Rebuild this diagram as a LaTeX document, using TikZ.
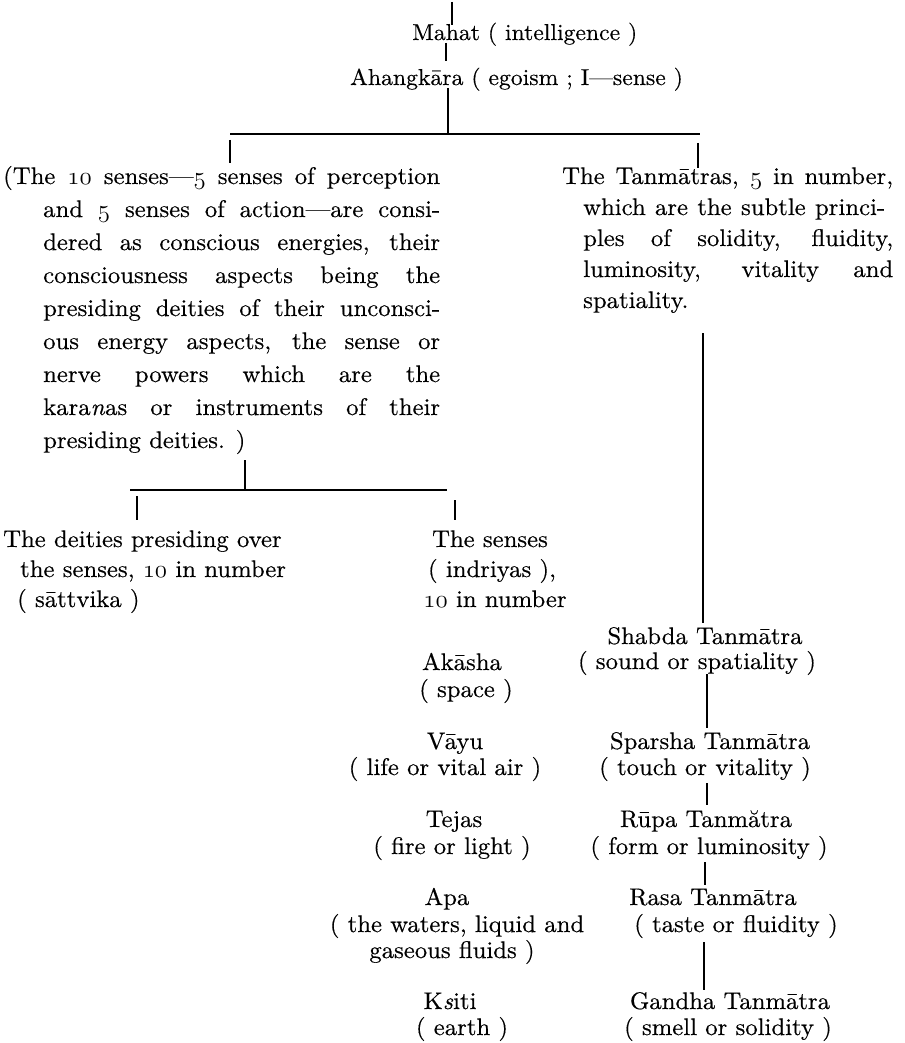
\documentclass[tikz,border=0pt]{standalone}
\usepackage{fontspec}
\setmainfont{lmroman10}[Extension=.otf, UprightFont=*-regular, ItalicFont=*-italic, FakeStretch=1.03, FakeBold=0.4]
\newcommand\osnum[1]{{\usefont{OML}{cmm}{m}{it}#1}}
\tikzset{
  lbl/.style={inner sep=0pt, font=\fontsize{24pt}{28pt}\selectfont},
  lft/.style={lbl, anchor=base west},
  ctr/.style={lbl, anchor=base},
  head/.style={inner sep=0pt, anchor=base west, font=\fontsize{23pt}{28pt}\selectfont},
  drop/.style={line width=2.4pt},
  bar/.style={line width=1.5pt},
  thin/.style={line width=1.3pt}
}
\newcommand\js[2]{\makebox[#1][s]{#2}}
\begin{document}
\begin{tikzpicture}[x=1pt,y=-1pt]
\useasboundingbox (0,0) rectangle (904,1043);
% top chain
\node[head] (mahat) at (412,40) {Mahat ( intelligence )};
\node[head] (ahang) at (350,85) {Ahangkāra ( egoism ; I—sense )};
\coordinate (top0) at (452,2);
\coordinate (top1) at (452,25);
\coordinate (m0) at (446,43);
\coordinate (m1) at (446,61);
\coordinate (a0) at (448,88);
\coordinate (a1) at (448,134);
\coordinate (hL) at (230,134);
\coordinate (hR) at (700,134);
\draw[drop] (top0) -- (top1);
\draw[drop] (m0) -- (m1);
\draw[drop] (a0) -- (a1);
\draw[bar] (hL) -- (hR);
\coordinate (dl0) at (230,140);
\coordinate (dl1) at (230,163);
\coordinate (dr0) at (698,143);
\coordinate (dr1) at (698,168);
\draw[drop] (dl0) -- (dl1);
\draw[drop] (dr0) -- (dr1);
% left paragraph
\node[lft] (l1) at (3,184) {\js{437pt}{(The \osnum{10} senses—\osnum{5} senses of perception}};
\node[lft] (l2) at (43,217) {\js{397pt}{and \osnum{5} senses of action—are consi-}};
\node[lft] (l3) at (43,250) {\js{397pt}{dered as conscious energies, their}};
\node[lft] (l4) at (43,283) {\js{397pt}{consciousness aspects being the}};
\node[lft] (l5) at (43,316) {\js{397pt}{presiding deities of their unconsci-}};
\node[lft] (l6) at (43,349) {\js{397pt}{ous energy aspects, the sense or}};
\node[lft] (l7) at (43,382) {\js{397pt}{nerve powers which are the}};
\node[lft] (l8) at (43,415) {\js{397pt}{kara\textit{n}as or instruments of their}};
\node[lft] (l9) at (43,448) {presiding deities. )};
% right paragraph
\node[lft] (r1) at (562,184) {\js{331pt}{The Tanmātras, \osnum{5} in number,}};
\node[lft] (r2) at (583,215) {\js{302pt}{which are the subtle princi-}};
\node[lft] (r3) at (583,246) {\js{310pt}{ples of solidity, fluidity,}};
\node[lft] (r4) at (583,277) {\js{310pt}{luminosity, vitality and}};
\node[lft] (r5) at (583,308) {spatiality.};
% second split
\coordinate (p0) at (245,460);
\coordinate (p1) at (245,490);
\coordinate (gL) at (130,490);
\coordinate (gR) at (447,490);
\draw[drop] (p0) -- (p1);
\draw[bar] (gL) -- (gR);
\coordinate (g10) at (137,496);
\coordinate (g11) at (137,520);
\coordinate (g20) at (455,500);
\coordinate (g21) at (455,520);
\draw[drop] (g10) -- (g11);
\draw[drop] (g20) -- (g21);
\node[lft] (d1) at (3,547) {The deities presiding over};
\node[lft] (d2) at (20,577) {the senses, \osnum{10} in number};
\node[lft] (d3) at (17,607) {( sāttvika )};
\node[ctr] (s1) at (490,547) {The senses};
\node[ctr] (s2) at (492,577) {( indriyas ),};
\node[ctr] (s3) at (495,607) {\osnum{10} in number};
% elements
\node[ctr] (e1a) at (462,670) {Akāsha};
\node[ctr] (e1b) at (466,697) {( space )};
\node[ctr] (e2a) at (455,749) {Vāyu};
\node[ctr] (e2b) at (445,775) {( life or vital air )};
\node[ctr] (e3a) at (454,827) {Tejas};
\node[ctr] (e3b) at (452,854) {( fire or light )};
\node[ctr] (e4a) at (447,905) {Apa};
\node[ctr] (e4b) at (457,932) {( the waters, liquid and};
\node[ctr] (e4c) at (452,958) {gaseous fluids )};
\node[ctr] (e5a) at (450,1009) {K\textit{s}iti};
\node[ctr] (e5b) at (462,1035) {( earth )};
% tanmatras
\coordinate (t0) at (703,333);
\coordinate (t1) at (703,623);
\draw[thin] (t0) -- (t1);
\node[ctr] (sh1) at (705,644) {Shabda Tanmātra};
\node[ctr] (sh2) at (697,669) {( sound or spatiality )};
\node[ctr] (sp1) at (710,749) {Sparsha Tanmātra};
\node[ctr] (sp2) at (705,775) {( touch or vitality )};
\node[ctr] (ru1) at (706,827) {Rūpa Tanmătra};
\node[ctr] (ru2) at (709,854) {( form or luminosity )};
\node[ctr] (ra1) at (713,905) {Rasa Tanmātra};
\node[ctr] (ra2) at (736,932) {( taste or fluidity )};
\node[ctr] (ga1) at (730,1009) {Gandha Tanmātra};
\node[ctr] (ga2) at (728,1035) {( smell or solidity )};
\coordinate (c10) at (707,674);
\coordinate (c11) at (707,728);
\coordinate (c20) at (707,783);
\coordinate (c21) at (707,805);
\coordinate (c30) at (705,862);
\coordinate (c31) at (705,885);
\coordinate (c40) at (704,942);
\coordinate (c41) at (704,990);
\draw[drop] (c10) -- (c11);
\draw[drop] (c20) -- (c21);
\draw[drop] (c30) -- (c31);
\draw[drop] (c40) -- (c41);
\end{tikzpicture}
\end{document}
